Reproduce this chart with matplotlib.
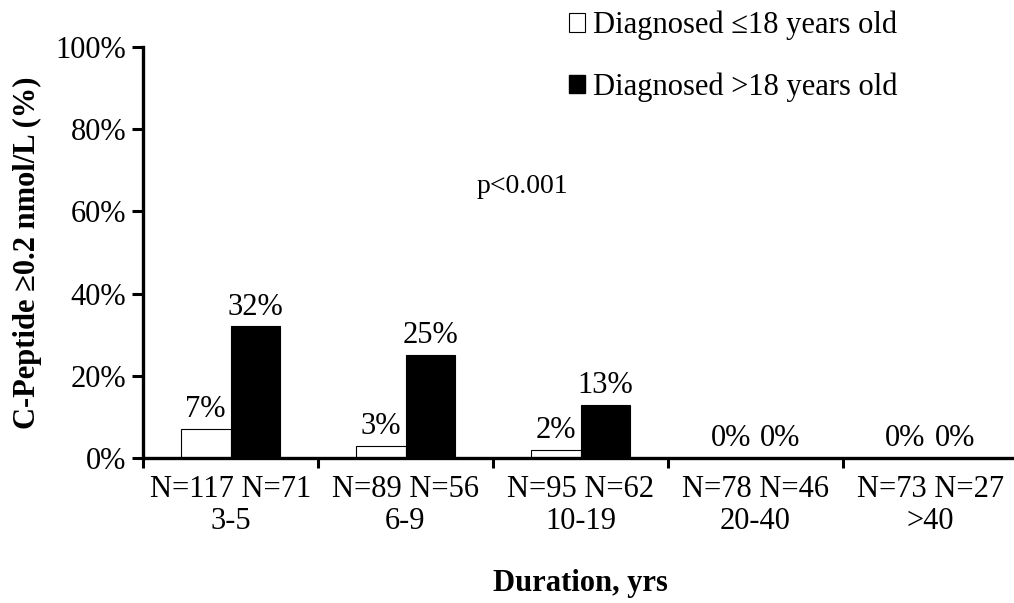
import numpy as np
import matplotlib.pyplot as plt
from matplotlib.patches import Patch

plt.rcParams['font.family'] = ['Liberation Serif', 'DejaVu Serif']

durations = ['3-5', '6-9', '10-19', '20-40', '>40']
n_young = [117, 89, 95, 78, 73]
n_old = [71, 56, 62, 46, 27]
pct_young = [7, 3, 2, 0, 0]
pct_old = [32, 25, 13, 0, 0]

fig = plt.figure(figsize=(10.14, 6.03), dpi=100)
ax = fig.add_axes([143/1014, 1 - 458/603, (1018 - 143)/1014, (458 - 47)/603])

x = np.arange(len(durations)) + 0.5
w = 0.285
ax.bar(x - w/2, pct_young, w, color='white', edgecolor='black', linewidth=0.8)
ax.bar(x + w/2, pct_old, w, color='black', edgecolor='black', linewidth=0.8)

for xi, v in zip(x - w/2, pct_young):
    ax.text(xi, v + 1.2, f'{v}%', ha='center', va='bottom', fontsize=22)
for xi, v in zip(x + w/2, pct_old):
    ax.text(xi, v + 1.2, f'{v}%', ha='center', va='bottom', fontsize=22)

ax.set_xlim(0, 5)
ax.set_ylim(0, 100)
ax.set_yticks([0, 20, 40, 60, 80, 100])
ax.set_yticklabels([f'{t}%' for t in [0, 20, 40, 60, 80, 100]], fontsize=22)

ax.set_xticks(np.arange(0, 6))
ax.set_xticklabels([])
ax.set_xticks(x, minor=True)
ax.set_xticklabels([f'N={a} N={b}\n{d}' for a, b, d in zip(n_young, n_old, durations)],
                   minor=True, fontsize=22, linespacing=1.15)
ax.tick_params(axis='x', which='minor', length=0, pad=12)
ax.tick_params(axis='x', which='major', length=7, width=2.2, direction='out')
ax.tick_params(axis='y', length=8, width=2.2, direction='out', pad=4)

for s in ['top', 'right']:
    ax.spines[s].set_visible(False)
for s in ['left', 'bottom']:
    ax.spines[s].set_linewidth(2.4)

ax.set_ylabel('C-Peptide \u22650.2 nmol/L (%)', fontsize=22, fontweight='bold', labelpad=10)
ax.set_xlabel('Duration, yrs', fontsize=22, fontweight='bold', labelpad=24)

ax.text(2.17, 66, 'p<0.001', ha='center', va='center', fontsize=20)

handles = [Patch(facecolor='white', edgecolor='black', linewidth=0.8),
           Patch(facecolor='black', edgecolor='black')]
fig.legend(handles, ['Diagnosed \u226418 years old', 'Diagnosed >18 years old'],
           loc='upper left', bbox_to_anchor=(541/1014, 1.028), frameon=False,
           fontsize=22, handlelength=0.55, handleheight=0.55, handletextpad=0.25,
           labelspacing=1.05)

fig.savefig('out.png', dpi=100)
